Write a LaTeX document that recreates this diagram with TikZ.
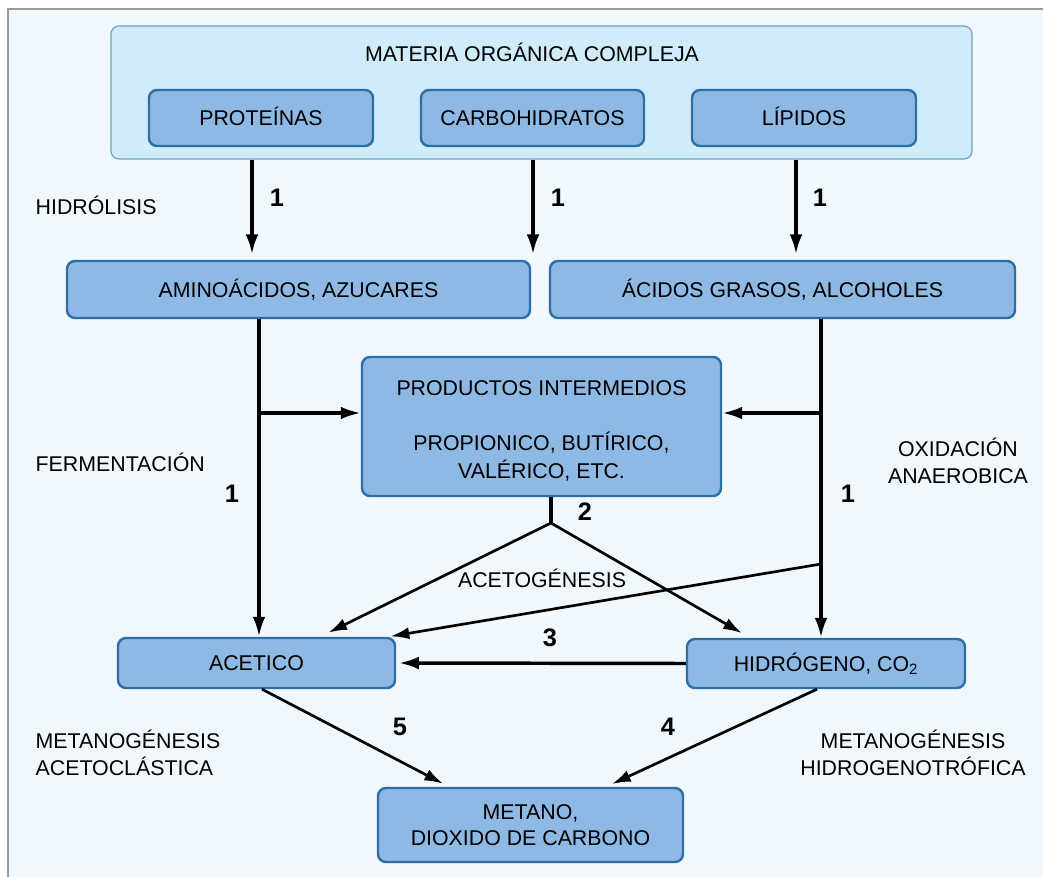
\documentclass[tikz,border=0pt]{standalone}
\usepackage{fontspec}
\setmainfont{Liberation Sans}
\usetikzlibrary{arrows.meta,fit}

\definecolor{pagebg}{HTML}{F0F7FD}
\definecolor{frameline}{HTML}{9A9A9A}
\definecolor{outerfill}{HTML}{D0EBFA}
\definecolor{outerline}{HTML}{6FA3BF}
\definecolor{boxfill}{HTML}{8FB9E5}
\definecolor{boxline}{HTML}{2B6FA6}

\newcommand{\txt}{\fontsize{16}{20.5}\selectfont}
\newcommand{\numf}{\fontsize{19}{20}\selectfont\bfseries}

\tikzset{
  outerbox/.style={draw=outerline, line width=0.9pt, fill=outerfill, rounded corners=6pt, inner sep=0pt},
  stagebox/.style={draw=boxline, line width=1.8pt, fill=boxfill, rounded corners=6pt, inner sep=0pt},
  boxtext/.style={label={[font=\txt, inner sep=0pt, text height=11.5pt, text depth=0pt]center:#1}},
  flow/.style={line width=2.6pt, -{Latex[length=15pt,width=9.5pt]}},
  thinflow/.style={line width=2pt, -{Latex[length=14pt,width=9pt]}},
  plain/.style={line width=2.6pt},
  num/.style={font=\numf},
  lbl/.style={font=\txt, align=left, anchor=west},
}

\begin{document}
\begin{tikzpicture}[x=0.75pt, y=-0.75pt]
  % page and frame
  \useasboundingbox (0,0) rectangle (1043,877);
  \fill[white] (0,0) rectangle (1043,877);
  \fill[pagebg] (8,9) rectangle (1043,877);
  \draw[frameline, line width=1.3pt] (8,877) -- (8,9) -- (1043,9);

  % complex organic matter
  \node[outerbox, fit={(111,26) (972,159)}] (outer) {};
  \node[font=\txt] (title) at (532,52) {MATERIA ORGÁNICA COMPLEJA};
  \node[stagebox, fit={(149,90) (373,146)}, boxtext={PROTEÍNAS}] (prot) {};
  \node[stagebox, fit={(421,90) (644,146)}, boxtext={CARBOHIDRATOS}] (carb) {};
  \node[stagebox, fit={(692,90) (916,146)}, boxtext={LÍPIDOS}] (lip) {};

  % hydrolysis products
  \node[stagebox, fit={(67,261) (530,318)}, boxtext={AMINOÁCIDOS, AZUCARES}] (amino) {};
  \node[stagebox, fit={(550,261) (1015,318)}, boxtext={ÁCIDOS GRASOS, ALCOHOLES}] (acid) {};

  % intermediates
  \node[stagebox, fit={(362,357) (721,496)}] (prod) {};
  \node[font=\fontsize{16}{21}\selectfont, align=center] (prodtext) at ([yshift=-3.5pt]prod.center)
    {PRODUCTOS INTERMEDIOS\\[20pt]PROPIONICO, BUTÍRICO,\\VALÉRICO, ETC.};

  % acetate, hydrogen, methane
  \node[stagebox, fit={(118,638) (395,688)}, boxtext={ACETICO}] (acet) {};
  \node[stagebox, fit={(687,639) (965,688)}, boxtext={HIDRÓGENO, CO\textsubscript{2}}] (hidro) {};
  \node[stagebox, fit={(378,788) (683,862)}] (met) {};
  \node[font=\fontsize{16}{20}\selectfont, align=center] (mettext) at (met.center)
    {METANO,\\DIOXIDO DE CARBONO};

  % reference points along the connectors
  \coordinate (h1) at (252,0);
  \coordinate (h2) at (533,0);
  \coordinate (h3) at (796,0);
  \coordinate (vl) at (259,413);
  \coordinate (vr) at (821,413);
  \coordinate (st) at (551,523);
  \coordinate (xr) at (821,564);
  \coordinate (ta) at (320,0);
  \coordinate (th) at (750,0);
  \coordinate (tx) at (388,0);
  \coordinate (s5) at (262,0);
  \coordinate (s4) at (817,0);
  \coordinate (t5) at (449,0);
  \coordinate (t4) at (606,0);

  % hydrolysis
  \draw[flow] (outer.south -| h1) -- ([yshift=4pt]amino.north -| h1);
  \draw[flow] (outer.south -| h2) -- ([yshift=4pt]amino.north -| h2);
  \draw[flow] (outer.south -| h3) -- ([yshift=4pt]acid.north -| h3);

  % fermentation and anaerobic oxidation
  \draw[flow] (amino.south -| vl) -- (acet.north -| vl);
  \draw[flow] (vl) -- (prod.west |- vl);
  \draw[flow] (acid.south -| vr) -- (hidro.north -| vr);
  \draw[flow] (vr) -- (prod.east |- vr);

  % acetogenesis
  \draw[plain] (prod.south -| st) -- (st);
  \draw[thinflow, shorten >=7pt] (st) -- (acet.north -| ta);
  \draw[thinflow, shorten >=7pt] (st) -- (hidro.north -| th);
  \draw[thinflow, shorten >=2pt] (xr) -- (acet.north -| tx);

  % homoacetogenesis
  \draw[flow, shorten >=2pt] (hidro.west) -- (acet.east);

  % methanogenesis
  \draw[thinflow, shorten >=5pt] (acet.south -| s5) -- (met.north -| t5);
  \draw[thinflow, shorten >=5pt] (hidro.south -| s4) -- (met.north -| t4);

  % step numbers
  \node[num] (n1a) at (277,198) {1};
  \node[num] (n1b) at (558,198) {1};
  \node[num] (n1c) at (820,198) {1};
  \node[num] (n1d) at (232,494) {1};
  \node[num] (n1e) at (848,494) {1};
  \node[num] (n2) at (585,512) {2};
  \node[num] (n3) at (550,638) {3};
  \node[num] (n5) at (400,727) {5};
  \node[num] (n4) at (668,727) {4};

  % stage names
  \node[lbl] (lh) at (31,205) {HIDRÓLISIS};
  \node[lbl] (lf) at (31,462) {FERMENTACIÓN};
  \node[font=\txt] (lac) at (542,578) {ACETOGÉNESIS};
  \node[font=\txt, align=center] (lox) at (958,461) {OXIDACIÓN\\ANAEROBICA};
  \node[lbl] (lma) at (31,753) {METANOGÉNESIS\\ACETOCLÁSTICA};
  \node[font=\txt, align=center] (lmh) at (913,753) {METANOGÉNESIS\\HIDROGENOTRÓFICA};
\end{tikzpicture}
\end{document}
